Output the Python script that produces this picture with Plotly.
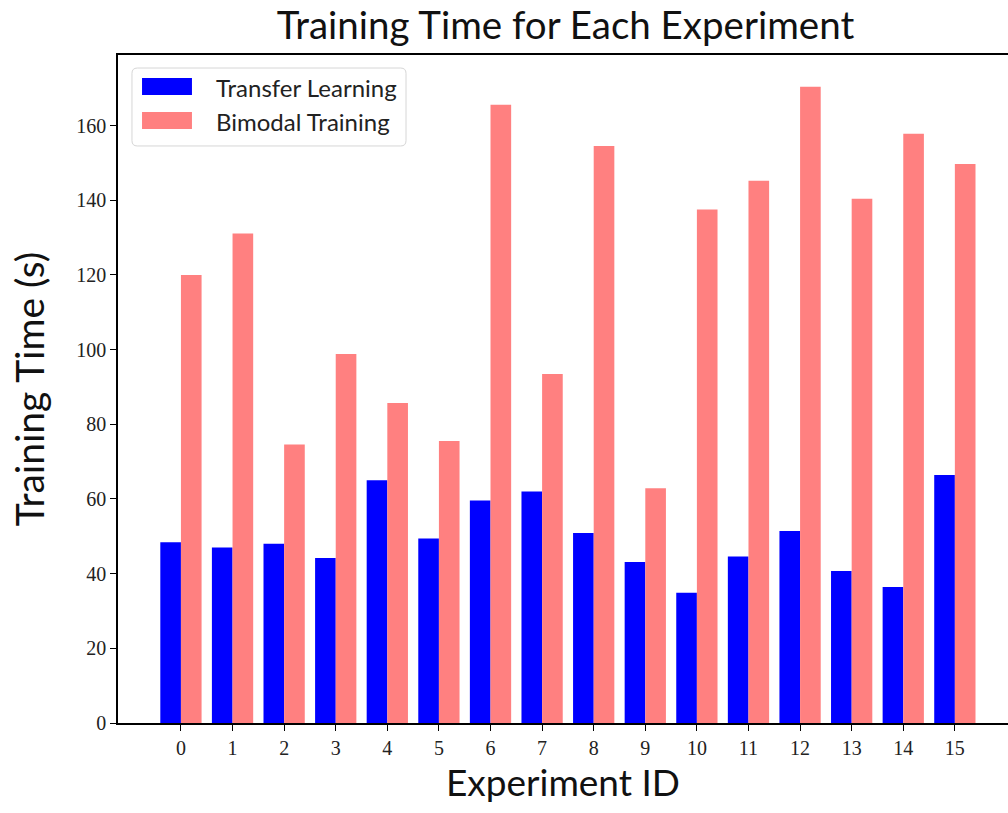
import plotly.graph_objects as go

experiment_ids = list(range(16))
transfer_learning = [48.4, 47.0, 48.0, 44.2, 65.0, 49.4, 59.6, 62.0,
                     50.9, 43.1, 34.9, 44.6, 51.4, 40.7, 36.4, 66.4]
bimodal_training = [120.0, 131.1, 74.6, 98.8, 85.7, 75.5, 165.6, 93.5,
                    154.5, 62.9, 137.5, 145.2, 170.4, 140.4, 157.8, 149.7]
y_ticks = [0, 20, 40, 60, 80, 100, 120, 140, 160]

series_names = ["Transfer Learning", "Bimodal Training"]
series_colors = ["#0000ff", "#ff8080"]

sans = "Lato, 'DejaVu Sans', sans-serif"
serif = "'Liberation Serif', 'DejaVu Serif', serif"

fig = go.Figure()
fig.add_trace(go.Bar(
    x=experiment_ids, y=transfer_learning, name=series_names[0],
    width=0.4, offset=-0.4, marker=dict(color=series_colors[0], line=dict(width=0)),
))
fig.add_trace(go.Bar(
    x=experiment_ids, y=bimodal_training, name=series_names[1],
    width=0.4, offset=0.0, marker=dict(color=series_colors[1], line=dict(width=0)),
))

# Legend box drawn by hand (wide colour patches, rounded frame)
x0, x1, y0, y1, r = 0.0157, 0.3236, 0.8638, 0.9805, 0.006
ry = r * 890 / 668
frame = (f"M{x0 + r},{y0} L{x1 - r},{y0} Q{x1},{y0} {x1},{y0 + ry} "
         f"L{x1},{y1 - ry} Q{x1},{y1} {x1 - r},{y1} "
         f"L{x0 + r},{y1} Q{x0},{y1} {x0},{y1 - ry} "
         f"L{x0},{y0 + ry} Q{x0},{y0} {x0 + r},{y0} Z")
shapes = [dict(type="path", xref="paper", yref="paper", path=frame,
               fillcolor="rgba(255,255,255,0.8)", line=dict(color="#d6d6d6", width=1))]
patch_rows = [(0.9401, 0.9656, 0.952), (0.8892, 0.9147, 0.901)]
annotations = []
for name, color, (py0, py1, ty) in zip(series_names, series_colors, patch_rows):
    shapes.append(dict(type="rect", xref="paper", yref="paper",
                       x0=0.027, x1=0.0831, y0=py0, y1=py1,
                       fillcolor=color, line=dict(width=0)))
    annotations.append(dict(text=name, xref="paper", yref="paper", x=0.108, y=ty,
                            xanchor="left", yanchor="middle", showarrow=False,
                            font=dict(family=sans, size=24, color="#222222")))

fig.update_layout(
    width=1008, height=813,
    margin=dict(l=118, r=0, t=55, b=90),
    paper_bgcolor="white", plot_bgcolor="white",
    barmode="overlay",
    showlegend=False,
    shapes=shapes,
    annotations=annotations,
    title=dict(text="Training Time for Each Experiment", x=0.561, xanchor="center",
               y=0.968, yanchor="middle",
               font=dict(family=sans, size=38.5, color="#111111")),
)
fig.update_xaxes(
    range=[-1.22, 16.03], tickmode="array", tickvals=experiment_ids,
    ticktext=[str(i) for i in experiment_ids],
    ticks="outside", ticklen=6, tickwidth=1.2, tickcolor="black",
    showline=True, linecolor="black", linewidth=1.5, mirror=True,
    showgrid=False, zeroline=False,
    tickfont=dict(family=serif, size=20, color="#222222"),
    title=dict(text="Experiment ID", font=dict(family=sans, size=37, color="#111111"),
               standoff=2),
)
fig.update_yaxes(
    range=[0, 178.9], tickmode="array", tickvals=y_ticks,
    ticks="outside", ticklen=6, tickwidth=1.2, tickcolor="black",
    showline=True, linecolor="black", linewidth=1.5, mirror=False,
    showgrid=False, zeroline=False,
    tickfont=dict(family=serif, size=20, color="#222222"),
    title=dict(text="Training Time (s)", font=dict(family=sans, size=39, color="#111111"),
               standoff=20),
)

fig.write_html("out.html")
